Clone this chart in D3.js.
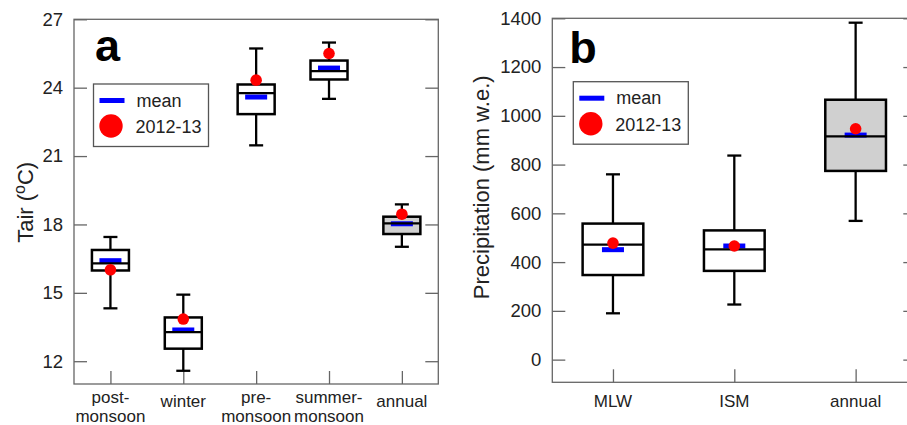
<!DOCTYPE html>
<html lang="en">
<head>
    <meta charset="UTF-8">
    <title>Tair and precipitation box plots</title>
    <script src="https://d3js.org/d3.v7.min.js"></script>
    <style>
        body { margin: 0; background: #fff; }
        svg { display: block; font-family: "Liberation Sans", Arial, sans-serif; }
        .tick text { font-size: 18.5px; fill: #222; }
        .tick line { stroke: #666; stroke-width: 1.3; }
        .xlabel { font-size: 17px; fill: #222; }
        .ytitle { font-size: 22px; fill: #222; }
        .panel-letter { font-size: 45px; font-weight: bold; fill: #000; }
        .legend text { font-size: 18px; fill: #222; }
    </style>
</head>
<body>
    <svg width="907" height="425"></svg>

    <script>
        // panel a: air temperature
        const tairCats = ["post-monsoon", "winter", "pre-monsoon", "summer-monsoon", "annual"];
        const tairLabels = [["post-", "monsoon"], ["winter"], ["pre-", "monsoon"], ["summer-", "monsoon"], ["annual"]];
        const tairLow = [14.32, 11.58, 21.47, 23.51, 17.02];
        const tairQ1 = [15.98, 12.55, 22.84, 24.36, 17.58];
        const tairMedian = [16.29, 13.28, 23.76, 24.73, 18.05];
        const tairQ3 = [16.88, 13.92, 24.14, 25.19, 18.34];
        const tairHigh = [17.45, 14.92, 25.72, 25.98, 18.88];
        const tairMean = [16.41, 13.37, 23.59, 24.86, 18.03];
        const tair2012 = [16.01, 13.85, 24.33, 25.50, 18.45];
        const tairTicks = [12, 15, 18, 21, 24, 27];

        // panel b: precipitation
        const precCats = ["MLW", "ISM", "annual"];
        const precLabels = [["MLW"], ["ISM"], ["annual"]];
        const precLow = [190, 226, 569];
        const precQ1 = [347, 364, 774];
        const precMedian = [472, 452, 916];
        const precQ3 = [558, 530, 1066];
        const precHigh = [760, 837, 1382];
        const precMean = [451, 466, 921];
        const prec2012 = [478, 466, 947];
        const precTicks = [0, 200, 400, 600, 800, 1000, 1200, 1400];

        const svg = d3.select("svg");

        function drawPanel(p) {
            const g = svg.append("g").attr("transform", `translate(${p.left},${p.top})`);
            const x = d3.scalePoint().domain(p.cats).range([0, p.width]).padding(0.5);
            const y = d3.scaleLinear().domain(p.domain).range([p.height, 0]);

            const rows = p.cats.map((c, i) => ({
                cat: c, label: p.labels[i], low: p.low[i], q1: p.q1[i], med: p.med[i],
                q3: p.q3[i], high: p.high[i], mean: p.mean[i], obs: p.obs[i],
                fill: c === "annual" ? "#d0d0d0" : "#fff"
            }));

            // axes with inward ticks
            g.append("g")
                .call(d3.axisLeft(y).tickValues(p.ticks).tickSize(-13).tickPadding(11).tickFormat(d3.format("d")))
                .call(a => a.select(".domain").remove());
            g.append("g")
                .attr("transform", `translate(${p.width},0)`)
                .call(d3.axisRight(y).tickValues(p.ticks).tickSize(-13).tickFormat(""))
                .call(a => a.select(".domain").remove());
            g.append("g")
                .attr("transform", `translate(0,${p.height})`)
                .call(d3.axisBottom(x).tickSize(-13).tickFormat(""))
                .call(a => a.select(".domain").remove());

            g.append("rect")
                .attr("width", p.width).attr("height", p.height)
                .attr("fill", "none").attr("stroke", "#666").attr("stroke-width", 1.3);

            // category labels
            g.selectAll(".xlabel")
                .data(rows)
                .enter().append("text")
                .attr("class", "xlabel")
                .attr("text-anchor", "middle")
                .attr("transform", d => `translate(${x(d.cat)},${p.height})`)
                .selectAll("tspan")
                .data(d => d.label.map((t, j) => ({t, j, n: d.label.length})))
                .enter().append("tspan")
                .attr("x", 0)
                .attr("y", d => d.n === 1 ? p.singleY : (d.j === 0 ? 18.7 : 37.7))
                .text(d => d.t);

            const box = g.selectAll(".box").data(rows).enter().append("g").attr("class", "box");

            box.append("line")
                .attr("x1", d => x(d.cat)).attr("x2", d => x(d.cat))
                .attr("y1", d => y(d.high)).attr("y2", d => y(d.q3))
                .attr("stroke", "#000").attr("stroke-width", 2.3);
            box.append("line")
                .attr("x1", d => x(d.cat)).attr("x2", d => x(d.cat))
                .attr("y1", d => y(d.q1)).attr("y2", d => y(d.low))
                .attr("stroke", "#000").attr("stroke-width", 2.3);
            [d => d.high, d => d.low].forEach(f => {
                box.append("line")
                    .attr("x1", d => x(d.cat) - 7).attr("x2", d => x(d.cat) + 7)
                    .attr("y1", d => y(f(d))).attr("y2", d => y(f(d)))
                    .attr("stroke", "#000").attr("stroke-width", 2.3);
            });
            box.append("rect")
                .attr("x", d => x(d.cat) - p.boxW / 2)
                .attr("y", d => y(d.q3))
                .attr("width", p.boxW)
                .attr("height", d => y(d.q1) - y(d.q3))
                .attr("fill", d => d.fill)
                .attr("stroke", "#000").attr("stroke-width", 2.5);
            box.append("rect")
                .attr("x", d => x(d.cat) - 11)
                .attr("y", d => y(d.mean) - 2.5)
                .attr("width", 22).attr("height", 5)
                .attr("fill", "#0000ff");
            box.append("line")
                .attr("x1", d => x(d.cat) - p.boxW / 2).attr("x2", d => x(d.cat) + p.boxW / 2)
                .attr("y1", d => y(d.med)).attr("y2", d => y(d.med))
                .attr("stroke", "#000").attr("stroke-width", 2.3);
            box.append("circle")
                .attr("cx", d => x(d.cat))
                .attr("cy", d => y(d.obs))
                .attr("r", 5.8)
                .attr("fill", "#ff0000");

            // legend
            const lg = g.append("g").attr("class", "legend")
                .attr("transform", `translate(${p.legend[0]},${p.legend[1]})`);
            lg.append("rect").attr("width", 115).attr("height", 62.5)
                .attr("fill", "#fff").attr("stroke", "#555").attr("stroke-width", 1.3);
            lg.append("rect").attr("x", 6).attr("y", 14).attr("width", 25).attr("height", 5).attr("fill", "#0000ff");
            lg.append("circle").attr("cx", 17.5).attr("cy", 42).attr("r", 11.7).attr("fill", "#ff0000");
            lg.append("text").attr("x", 43).attr("y", 22.7).text("mean");
            lg.append("text").attr("x", 42).attr("y", 49.3).text("2012-13");

            g.append("text")
                .attr("class", "panel-letter")
                .attr("x", p.letterPos[0]).attr("y", p.letterPos[1])
                .text(p.letter);

            const title = g.append("text")
                .attr("class", "ytitle")
                .attr("text-anchor", "middle")
                .attr("transform", `translate(${p.titlePos[0]},${p.titlePos[1]}) rotate(-90)`);
            p.title.forEach(part => {
                const t = title.append("tspan").text(part.t);
                if (part.sup) t.attr("baseline-shift", "super").attr("font-size", "16px");
            });
        }

        drawPanel({
            left: 74, top: 19.3, width: 364.3, height: 364.7,
            cats: tairCats, labels: tairLabels, low: tairLow, q1: tairQ1, med: tairMedian,
            q3: tairQ3, high: tairHigh, mean: tairMean, obs: tair2012,
            domain: [11, 27], ticks: tairTicks, boxW: 37, singleY: 23,
            legend: [19.5, 64.7], letter: "a", letterPos: [21, 41.7],
            title: [{t: "Tair ("}, {t: "o", sup: true}, {t: "C)"}], titlePos: [-41, 183]
        });

        drawPanel({
            left: 552.3, top: 18.3, width: 364, height: 364,
            cats: precCats, labels: precLabels, low: precLow, q1: precQ1, med: precMedian,
            q3: precQ3, high: precHigh, mean: precMean, obs: prec2012,
            domain: [-93, 1400], ticks: precTicks, boxW: 60.7, singleY: 25,
            legend: [21, 63.4], letter: "b", letterPos: [17, 44.4],
            title: [{t: "Precipitation (mm w.e.)"}], titlePos: [-63, 169]
        });
    </script>
</body>
</html>
